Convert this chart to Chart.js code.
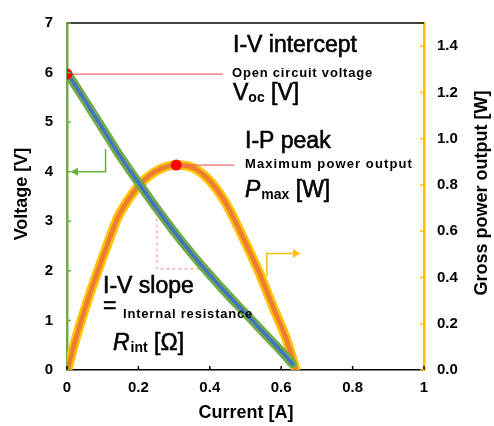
<!DOCTYPE html>
<html>
<head>
<meta charset="utf-8">
<script src="https://cdn.jsdelivr.net/npm/chart.js@4.4.1/dist/chart.umd.min.js"></script>
<style>
  html, body { margin: 0; padding: 0; background: #fff; }
  #wrap { width: 494px; height: 426px; }
</style>
</head>
<body>
<div id="wrap"><canvas id="chart" width="494" height="426"></canvas></div>
<script>
// I-V curve (left axis, volts)
const currentIV = [0, 0.05, 0.1, 0.15, 0.2, 0.25, 0.3, 0.35, 0.4, 0.45, 0.5, 0.55, 0.6, 0.632];
const voltageIV = [6.0, 5.44, 4.87, 4.30, 3.78, 3.27, 2.79, 2.34, 1.92, 1.52, 1.14, 0.76, 0.38, 0.12];

// I-P curve (right axis, watts)
const currentIP = [0.002, 0.022, 0.05, 0.078, 0.111, 0.143, 0.176, 0.209, 0.25, 0.306, 0.353, 0.4, 0.446, 0.492, 0.539, 0.576, 0.614, 0.64];
const powerIP = [0.005, 0.12, 0.263, 0.391, 0.533, 0.661, 0.746, 0.81, 0.86, 0.886, 0.874, 0.818, 0.718, 0.576, 0.419, 0.277, 0.135, 0.007];

// highlighted points
const vocPoint = [0, 5.97];       // [current, voltage]
const pmaxPoint = [0.306, 0.886]; // [current, power]

// tick labels
const currentTicks = ['0', '0.2', '0.4', '0.6', '0.8', '1'];
const voltageTicks = ['0', '1', '2', '3', '4', '5', '6', '7'];
const powerTicks = ['0.0', '0.2', '0.4', '0.6', '0.8', '1.0', '1.2', '1.4'];

const GREEN = '#70AD47', BLUE = '#4472C4', ORANGE = '#ED7D31', GOLD = '#FFC000', RED = '#FF0000';
const FONT = '"Liberation Sans", Arial, sans-serif';

const ivData = currentIV.map((c, i) => ({ x: c, y: voltageIV[i] }));
const ipData = currentIP.map((c, i) => ({ x: c, y: powerIP[i] }));

// inward tick marks, top frame, axis titles and annotation text
const decorPlugin = {
  id: 'decor',
  afterDraw(chart) {
    const ctx = chart.ctx;
    const a = chart.chartArea;
    const sx = chart.scales.x, sy = chart.scales.y, sy1 = chart.scales.y1;
    ctx.save();
    // top frame
    ctx.strokeStyle = '#000';
    ctx.lineWidth = 1.5;
    ctx.beginPath(); ctx.moveTo(a.left, a.top); ctx.lineTo(a.right, a.top); ctx.stroke();
    // tick marks inside
    sx.ticks.forEach(t => {
      const px = sx.getPixelForValue(t.value);
      ctx.beginPath(); ctx.moveTo(px, a.bottom); ctx.lineTo(px, a.bottom - 4); ctx.stroke();
    });
    ctx.strokeStyle = GREEN;
    sy.ticks.forEach(t => {
      const py = sy.getPixelForValue(t.value);
      ctx.beginPath(); ctx.moveTo(a.left, py); ctx.lineTo(a.left + 4, py); ctx.stroke();
    });
    ctx.strokeStyle = GOLD;
    sy1.ticks.forEach(t => {
      if (t.value > 1.45) return;
      const py = sy1.getPixelForValue(t.value);
      ctx.beginPath(); ctx.moveTo(a.right, py); ctx.lineTo(a.right - 4, py); ctx.stroke();
    });

    // axis titles
    ctx.fillStyle = '#000';
    ctx.font = 'bold 18px ' + FONT;
    ctx.textAlign = 'center';
    ctx.textBaseline = 'middle';
    ctx.fillText('Current [A]', 246, 413);
    ctx.save(); ctx.translate(22, 194); ctx.rotate(-Math.PI / 2); ctx.fillText('Voltage [V]', 0, 0); ctx.restore();
    ctx.save(); ctx.translate(482, 193); ctx.rotate(-Math.PI / 2); ctx.fillText('Gross power output [W]', 0, 0); ctx.restore();

    // annotation text
    ctx.textAlign = 'left';
    ctx.textBaseline = 'alphabetic';
    const big = (txt, x, y, italic) => {
      ctx.font = (italic ? 'italic ' : '') + '23px ' + FONT;
      ctx.lineWidth = 0.6; ctx.strokeStyle = '#000';
      ctx.fillText(txt, x, y); ctx.strokeText(txt, x, y);
      return x + ctx.measureText(txt).width;
    };
    const small = (txt, x, y, size, spacing) => {
      ctx.font = 'bold ' + (size || 13) + 'px ' + FONT;
      ctx.letterSpacing = (spacing == null ? 0.8 : spacing) + 'px';
      ctx.fillText(txt, x, y);
      const w = ctx.measureText(txt).width;
      ctx.letterSpacing = '0px';
      return x + w;
    };
    big('I-V intercept', 233, 52);
    small('Open circuit voltage', 232, 77);
    let x = big('V', 233, 100);
    x = small('oc', x, 102, 14, 0);
    big(' [V]', x, 100);

    big('I-P peak', 245, 148);
    small('Maximum power output', 245, 168, 13, 1.1);
    x = big('P', 245, 197, true);
    x = small('max', x + 1, 199, 14, 0);
    big(' [W]', x, 197);

    big('I-V slope', 103, 293);
    big('=', 103, 313);
    small('Internal resistance', 123, 318);
    x = big('R', 113, 350, true);
    x = small('int', x + 1, 352, 14, 0);
    big(' [\u03A9]', x, 350);
    ctx.restore();
  }
};

new Chart(document.getElementById('chart'), {
  type: 'line',
  data: {
    datasets: [
      // leader line + red point at open-circuit voltage
      { data: [{ x: vocPoint[0], y: vocPoint[1] }, { x: 0.437, y: vocPoint[1] }], yAxisID: 'y',
        borderColor: '#F26B6B', borderWidth: 1.2, pointRadius: [5.5, 0], pointBackgroundColor: RED,
        pointBorderWidth: 0, order: 0 },
      // leader line + red point at max power
      { data: [{ x: pmaxPoint[0], y: pmaxPoint[1] }, { x: 0.469, y: pmaxPoint[1] }], yAxisID: 'y1',
        borderColor: '#F26B6B', borderWidth: 1.2, pointRadius: [5.5, 0], pointBackgroundColor: RED,
        pointBorderWidth: 0, order: 0 },
      // slope guide (dashed)
      { data: [{ x: 0.252, y: 3.18 }, { x: 0.252, y: 2.04 }, { x: 0.385, y: 2.04 }], yAxisID: 'y',
        borderColor: '#F08A8A', borderWidth: 1, borderDash: [3, 3], pointRadius: 0, order: 5 },
      // axis arrows
      { data: [{ x: 0.108, y: 4.46 }, { x: 0.108, y: 4.0 }, { x: 0.024, y: 4.0 }], yAxisID: 'y',
        borderColor: GREEN, borderWidth: 1.5, pointRadius: [0, 0, 5], pointStyle: 'triangle',
        rotation: -90, pointBackgroundColor: GREEN, pointBorderWidth: 0, order: 5 },
      { data: [{ x: 0.56, y: 0.405 }, { x: 0.56, y: 0.504 }, { x: 0.64, y: 0.504 }], yAxisID: 'y1',
        borderColor: GOLD, borderWidth: 1.5, pointRadius: [0, 0, 5], pointStyle: 'triangle',
        rotation: 90, pointBackgroundColor: GOLD, pointBorderWidth: 0, order: 5 },
      // I-V curve: green rim + blue core
      { data: ivData, yAxisID: 'y', borderColor: BLUE, borderWidth: 3.5, pointRadius: 0,
        cubicInterpolationMode: 'monotone', borderCapStyle: 'round', order: 1 },
      { data: ivData, yAxisID: 'y', borderColor: GREEN, borderWidth: 9, pointRadius: 0,
        cubicInterpolationMode: 'monotone', borderCapStyle: 'round', order: 2 },
      // I-P curve: gold rim + orange core
      { data: ipData, yAxisID: 'y1', borderColor: ORANGE, borderWidth: 4.5, pointRadius: 0,
        cubicInterpolationMode: 'monotone', borderCapStyle: 'round', order: 3 },
      { data: ipData, yAxisID: 'y1', borderColor: GOLD, borderWidth: 9.5, pointRadius: 0,
        cubicInterpolationMode: 'monotone', borderCapStyle: 'round', order: 4 }
    ]
  },
  options: {
    responsive: false,
    animation: false,
    devicePixelRatio: 1,
    layout: { padding: { top: 17 } },
    plugins: { legend: { display: false }, tooltip: { enabled: false } },
    scales: {
      x: {
        type: 'linear', min: 0, max: 1,
        ticks: { stepSize: 0.2, padding: 9, color: '#000', font: { family: FONT, size: 15, weight: 'bold' },
          callback: (v, i) => currentTicks[i] },
        grid: { display: false, drawTicks: false },
        border: { display: true, color: '#000', width: 1.5 },
        afterFit: s => { s.height = 56; }
      },
      y: {
        position: 'left', min: 0, max: 7,
        ticks: { stepSize: 1, padding: 14, color: '#000', font: { family: FONT, size: 15, weight: 'bold' },
          callback: (v, i) => voltageTicks[i] },
        grid: { display: false, drawTicks: false },
        border: { display: true, color: GREEN, width: 2.5 },
        afterFit: s => { s.width = 67; }
      },
      y1: {
        position: 'right', min: 0, max: 1.5,
        ticks: { stepSize: 0.2, padding: 13, color: '#000', font: { family: FONT, size: 15, weight: 'bold' },
          callback: (v, i) => (v > 1.45 ? '' : powerTicks[i]) },
        grid: { display: false, drawTicks: false },
        border: { display: true, color: GOLD, width: 2.5 },
        afterFit: s => { s.width = 70; }
      }
    }
  },
  plugins: [decorPlugin]
});
</script>
</body>
</html>
